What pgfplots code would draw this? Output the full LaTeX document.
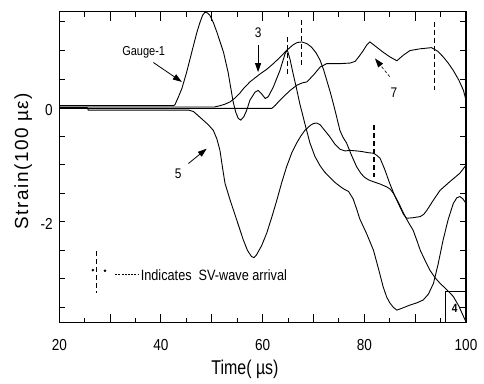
\documentclass[border=0pt]{standalone}
\usepackage{fontspec}
\setmainfont{Liberation Sans}[FakeStretch=0.85]
\newfontfamily\ylabfont{Liberation Sans}[LetterSpace=8]
\newfontfamily\xlabfont{Liberation Sans}[FakeStretch=0.8]
\usepackage{pgfplots}
\pgfplotsset{compat=1.18}
\usetikzlibrary{arrows.meta}
\begin{document}
\begin{tikzpicture}
\begin{axis}[name=ax, scale only axis, width=406.7bp, height=311bp,
  xmin=20, xmax=100, ymin=-3.77, ymax=1.68,
  xtick={20,40,60,80,100}, xticklabels={20,40,60,80,100},
  ytick={-2,0}, yticklabels={-2,0},
  major tick length=0pt, minor tick length=0pt,
  axis line style={line width=1.3bp},
  tick label style={font=\fontsize{16}{16}\selectfont},
  xticklabel style={yshift=-13bp}, yticklabel style={xshift=-3bp, yshift=-2bp},
  xlabel={Time( µs)}, ylabel={Strain(100 µε)},
  xlabel style={font=\xlabfont\fontsize{20}{20}\selectfont, at={(axis description cs:0.4566,-0.151)}, anchor=center},
  ylabel style={font=\ylabfont\fontsize{19}{19}\selectfont, at={(axis description cs:-0.0885,0.52)}, anchor=center},
  clip=true]
% y tick marks (inside, left and right)
\pgfplotsinvokeforeach{-3.5,-3,-2.5,-2,-1.5,-1,-0.5,0,0.5,1,1.5}{
  \draw[line width=1bp] (axis cs:20,#1) -- (axis cs:21.1,#1);
  \draw[line width=1bp] (axis cs:100,#1) -- (axis cs:98.9,#1);}
% Gauge-1
\addplot[black, line width=0.9bp] coordinates {(20,0.035) (42.5,0.035) (42.75,0.05) (43.4,0.18) (44.1,0.33) (45.05,0.62) (46.4,1.09) (47.1,1.33) (47.7,1.50) (48.2,1.62) (48.65,1.67) (49.1,1.66) (49.6,1.62) (50.3,1.49) (51,1.32) (52.3,0.97) (53.2,0.62) (53.7,0.36) (54.2,0.10) (54.7,-0.08) (55.2,-0.19) (55.7,-0.22) (56.3,-0.16) (56.85,-0.05) (57.5,0.13) (58.5,0.27) (59.1,0.30) (59.8,0.24) (60.5,0.16) (61.1,0.19) (62.1,0.36) (63.4,0.65) (64.4,0.94) (64.85,1.01) (65.4,0.84) (66,0.59) (66.7,0.32) (67.3,0.07) (68.3,-0.28) (69.3,-0.62) (70.3,-0.86) (71.3,-1.02) (72.2,-1.13) (73.2,-1.22) (74.2,-1.31) (75.2,-1.38) (76.2,-1.44) (76.9,-1.47) (77.8,-1.6) (78.5,-1.78) (79.1,-1.95) (80.5,-2.22) (81.8,-2.50) (82.8,-2.83) (83.7,-3.14) (84.4,-3.32) (85,-3.42) (85.7,-3.50) (86.4,-3.55) (87.6,-3.51) (89,-3.46) (90.4,-3.42) (91.6,-3.37) (92.6,-3.27) (93.6,-3.08) (94.5,-2.75) (95.5,-2.32) (96.5,-1.96) (97.5,-1.68) (98.2,-1.58) (98.8,-1.56) (99.4,-1.60) (100,-1.68)};
% Gauge 3
\addplot[black, line width=0.9bp] coordinates {(20,0.01) (50.5,0.01) (51.5,0.03) (52.6,0.06) (53.6,0.10) (54.6,0.17) (55.5,0.25) (56.2,0.33) (57.5,0.45) (59.5,0.59) (60.8,0.67) (62.1,0.77) (63.4,0.88) (64.7,1.0) (66,1.10) (66.8,1.14) (67.7,1.15) (68.7,1.12) (69.6,1.06) (70.5,0.96) (71.3,0.83) (72.0,0.66) (72.6,0.48) (73.3,0.27) (73.9,0.07) (74.6,-0.18) (75.2,-0.40) (75.8,-0.52) (76.5,-0.62) (77.5,-0.84) (78.5,-1.04) (79.3,-1.15) (80,-1.22) (80.9,-1.27) (81.8,-1.30) (83.1,-1.34) (84.4,-1.39) (85.1,-1.43) (85.7,-1.50) (86.7,-1.66) (87.7,-1.85) (88.6,-2.0) (89.6,-2.15) (90.3,-2.32) (91,-2.50) (92,-2.69) (92.9,-2.85) (93.9,-2.98) (94.9,-3.08) (96.2,-3.19) (97.5,-3.31) (98.6,-3.48) (99.5,-3.66) (100,-3.75)};
% Gauge 5
\addplot[black, line width=0.9bp] coordinates {(20,0) (25.5,0) (25.7,-0.045) (45.5,-0.045) (46.4,-0.07) (47.3,-0.14) (48.3,-0.22) (49.3,-0.30) (50.3,-0.40) (51.0,-0.55) (51.6,-0.75) (52.1,-1.05) (52.6,-1.33) (53.6,-1.62) (54.9,-1.97) (56.2,-2.32) (57.0,-2.50) (57.8,-2.61) (58.3,-2.63) (58.8,-2.58) (59.8,-2.42) (60.8,-2.20) (61.8,-1.92) (62.8,-1.62) (63.7,-1.33) (64.7,-1.04) (65.7,-0.80) (66.7,-0.62) (67.5,-0.50) (68.3,-0.40) (69.4,-0.31) (70.0,-0.28) (70.6,-0.27) (71.3,-0.30) (72.2,-0.40) (73.2,-0.51) (74.2,-0.64) (75.2,-0.73) (76.2,-0.76) (77.2,-0.75) (78.5,-0.76) (79.5,-0.77) (80.7,-0.79) (81.8,-0.80) (82.5,-0.84) (83.1,-0.89) (84.0,-1.08) (85,-1.33) (86,-1.55) (87,-1.74) (87.7,-1.87) (88.3,-1.94) (89.6,-1.93) (91,-1.91) (91.7,-1.87) (92.3,-1.80) (93.6,-1.62) (94.9,-1.45) (96.8,-1.30) (98.8,-1.15) (100,-1.01)};
% Gauge 7
\addplot[black, line width=0.9bp] coordinates {(20,-0.015) (61.8,-0.015) (62.5,0.04) (63.3,0.12) (64.1,0.19) (65.4,0.30) (66.7,0.39) (67.7,0.43) (68.7,0.45) (70.0,0.57) (71.3,0.71) (72.6,0.77) (73.9,0.77) (75.2,0.77) (77.2,0.78) (78.2,0.81) (79.0,0.90) (79.8,1.00) (80.5,1.10) (81.1,1.15) (82.4,1.06) (83.7,0.97) (85.0,0.89) (86.4,0.82) (87.7,0.92) (89,1.00) (91,1.03) (93.2,1.05) (94.4,0.99) (95.5,0.89) (96.5,0.78) (97.5,0.65) (98.6,0.48) (99.5,0.30) (100,0.13)};
% SV-wave arrival markers
\addplot[black, line width=1.3bp, dash pattern=on 5bp off 3bp] coordinates {(64.9,1.24) (64.9,0.57)};
\addplot[black, line width=1.3bp, dash pattern=on 5bp off 3bp] coordinates {(67.7,1.53) (67.7,0.71)};
\addplot[black, line width=1.3bp, dash pattern=on 5bp off 3bp] coordinates {(81.9,-0.31) (81.9,-1.21)};
\addplot[black, line width=1.3bp, dash pattern=on 5bp off 3bp] coordinates {(93.8,1.50) (93.8,0.30)};
% legend symbol
\addplot[black, line width=1.3bp, dash pattern=on 5bp off 3bp] coordinates {(27.3,-2.52) (27.3,-3.25)};
\addplot[only marks, mark=*, mark size=1.1bp, black] coordinates {(26.6,-2.85) (29.0,-2.86)};
\addplot[black, line width=0.8bp, dash pattern=on 2bp off 1.2bp] coordinates {(31.0,-2.93) (35.5,-2.93)};
\node[anchor=west, font=\fontsize{15}{15}\selectfont, inner sep=0pt] at (axis cs:36.0,-2.93) {Indicates\ \ SV-wave arrival};
% annotations
\node[font=\fontsize{13}{13}\selectfont] at (axis cs:36.6,0.97) {Gauge-1};
\draw[line width=0.8bp, -{Triangle[length=9bp,width=6bp]}] (axis cs:38.5,0.79) -- (axis cs:44.1,0.45);
\node[font=\fontsize{14}{14}\selectfont] at (axis cs:59.1,1.31) {3};
\draw[line width=0.8bp, -{Triangle[length=9bp,width=6bp]}] (axis cs:59.1,1.10) -- (axis cs:59.1,0.62);
\node[font=\fontsize{14}{14}\selectfont] at (axis cs:43.4,-1.16) {5};
\draw[line width=0.8bp, -{Triangle[length=9bp,width=6bp]}] (axis cs:45.4,-0.98) -- (axis cs:49.0,-0.72);
\node[font=\fontsize{14}{14}\selectfont] at (axis cs:85.8,0.26) {7};
\draw[line width=0.6bp, densely dashed, -{Triangle[length=9bp,width=6bp]}] (axis cs:85.0,0.54) -- (axis cs:82.1,0.86);
% corner box
\draw[line width=1bp] (axis cs:95.9,-3.8) rectangle (axis cs:100,-3.23);
\node[font=\bfseries\fontsize{12}{12}\selectfont] at (axis cs:97.8,-3.52) {4};
\end{axis}
% x tick marks (inside, bottom and top), drawn on the axis frame
\foreach \i in {2,4,...,14} {
  \draw[line width=1bp] ([xshift=\i*25.4188bp]ax.south west) -- ++(0,9bp);
  \draw[line width=1bp] ([xshift=\i*25.4188bp]ax.north west) -- ++(0,-9bp);}
\foreach \i in {1,3,...,15} {
  \draw[line width=1bp] ([xshift=\i*25.4188bp]ax.south west) -- ++(0,5bp);
  \draw[line width=1bp] ([xshift=\i*25.4188bp]ax.north west) -- ++(0,-5bp);}
\pgfresetboundingbox
\path[use as bounding box] ([shift={(-59.3bp,-60.3bp)}]ax.south west) rectangle ([shift={(18bp,11.7bp)}]ax.north east);
\end{tikzpicture}
\end{document}
